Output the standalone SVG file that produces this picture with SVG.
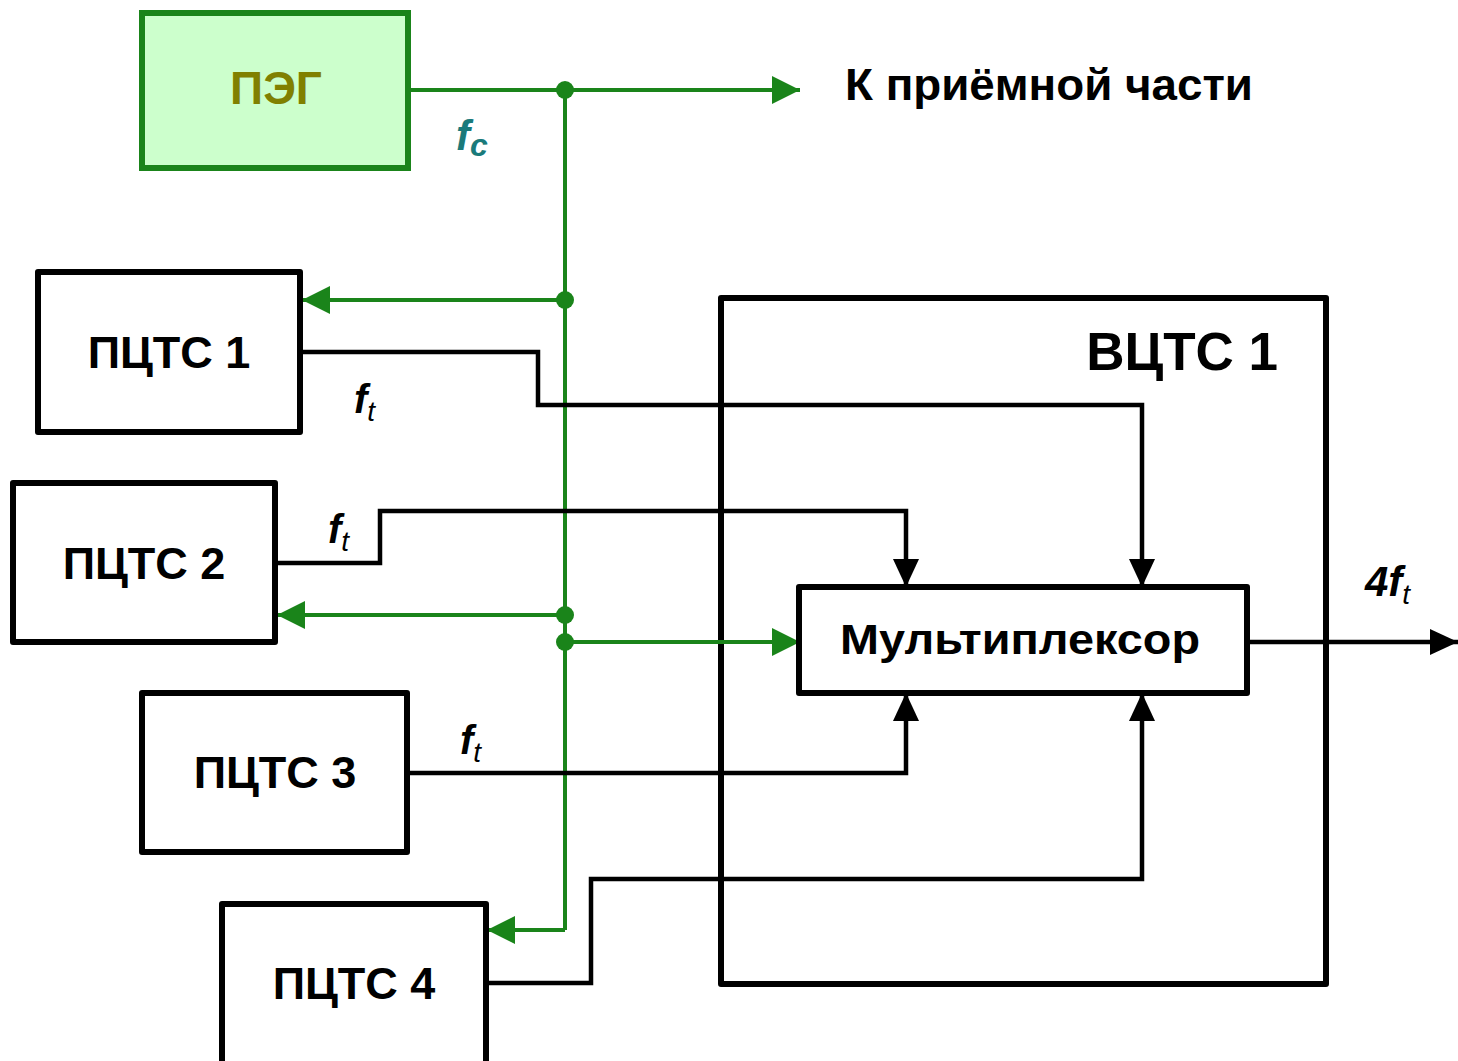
<svg xmlns="http://www.w3.org/2000/svg" width="1458" height="1061" viewBox="0 0 1458 1061">
<defs>
<marker id="ag" markerUnits="userSpaceOnUse" markerWidth="30" markerHeight="28" refX="28" refY="14" orient="auto"><path d="M0,0 L28,14 L0,28 Z" fill="#1a841a"/></marker>
<marker id="ab" markerUnits="userSpaceOnUse" markerWidth="30" markerHeight="26" refX="28" refY="13" orient="auto"><path d="M0,0 L28,13 L0,26 Z" fill="#000"/></marker>
</defs>
<style>
.box{fill:#fff;stroke:#000;stroke-width:6;stroke-linejoin:round}
.lbl{font-family:"Liberation Sans",Arial,sans-serif;font-weight:bold;font-size:45px;text-anchor:middle;fill:#000}
.g{fill:none;stroke:#1a841a;stroke-width:4}
.b{fill:none;stroke:#000;stroke-width:4.5}
.f{font-family:"Liberation Sans",Arial,sans-serif;font-weight:bold;font-style:italic;font-size:40px;fill:#000}
.sub{font-size:28px;font-weight:normal}
</style>
<rect width="1458" height="1061" fill="#fff"/>
<g id="vcts1">
<rect class="box" x="721" y="298" width="605" height="686"/>
<text class="lbl" x="1278" y="370" style="text-anchor:end;font-size:53px">ВЦТС 1</text>
</g>
<g id="connectors">
<path class="g" d="M408,90 H800" marker-end="url(#ag)"/>
<path class="g" d="M565,90 V930"/>
<path class="g" d="M565,300 H302" marker-end="url(#ag)"/>
<path class="g" d="M565,615 H277" marker-end="url(#ag)"/>
<path class="g" d="M565,642 H800" marker-end="url(#ag)"/>
<path class="g" d="M565,930 H487" marker-end="url(#ag)"/>
<g fill="#1a841a"><circle cx="565" cy="90" r="9"/><circle cx="565" cy="300" r="9"/><circle cx="565" cy="615" r="9"/><circle cx="565" cy="642" r="9"/></g>
<path class="b" d="M300,352 H538 V405 H1142 V587" marker-end="url(#ab)"/>
<path class="b" d="M275,563 H380 V511 H906 V587" marker-end="url(#ab)"/>
<path class="b" d="M407,773 H906 V693" marker-end="url(#ab)"/>
<path class="b" d="M486,983 H591 V879 H1142 V693" marker-end="url(#ab)"/>
<path class="b" d="M1247,642 H1458" marker-end="url(#ab)"/>
</g>
<g id="peg">
<rect x="142" y="13" width="266" height="155" fill="#ccffcc" stroke="#1a841a" stroke-width="6"/>
<text class="lbl" x="276" y="104" style="fill:#808000;font-size:46px">ПЭГ</text>
</g>
<g id="pcts1"><rect class="box" x="38" y="272" width="262" height="160"/><text class="lbl" x="169" y="368">ПЦТС 1</text></g>
<g id="pcts2"><rect class="box" x="13" y="483" width="262" height="159"/><text class="lbl" x="144" y="579">ПЦТС 2</text></g>
<g id="pcts3"><rect class="box" x="142" y="693" width="265" height="159"/><text class="lbl" x="275" y="788">ПЦТС 3</text></g>
<g id="pcts4"><rect class="box" x="222" y="904" width="264" height="170"/><text class="lbl" x="354" y="999">ПЦТС 4</text></g>
<g id="mux"><rect class="box" x="799" y="587" width="448" height="106"/><text class="lbl" x="1020" y="654" style="font-size:42px" textLength="360" lengthAdjust="spacingAndGlyphs">Мультиплексор</text></g>
<g id="labels">
<text class="f" x="456" y="150" style="fill:#1a7a7a;font-size:42px">f<tspan dy="6" style="font-size:32px;font-weight:bold">c</tspan></text>
<text x="845" y="100" style="font-family:'Liberation Sans',Arial,sans-serif;font-weight:bold;font-size:45px" textLength="408" lengthAdjust="spacingAndGlyphs">К приёмной части</text>
<text class="f" x="354" y="413">f<tspan class="sub" dy="8">t</tspan></text>
<text class="f" x="328" y="543">f<tspan class="sub" dy="8">t</tspan></text>
<text class="f" x="460" y="754">f<tspan class="sub" dy="8">t</tspan></text>
<text class="f" x="1365" y="596" style="font-size:42px">4f<tspan class="sub" dy="8">t</tspan></text>
</g>
</svg>
